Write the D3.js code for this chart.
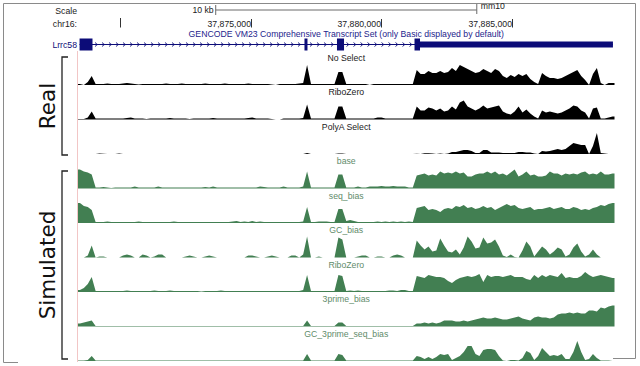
<!DOCTYPE html>
<html>
<head>
<meta charset="utf-8">
<script src="https://cdn.jsdelivr.net/npm/d3@7"></script>
<style>
  body { margin: 0; background: #fff; }
  svg { display: block; }
</style>
</head>
<body>
<div id="container"></div>
<script>
// genome window (mm10, chr16) binned at 150 bp
const regionStart = 37868390;
const binSize = 150;

// ruler ticks
const chrTicks = [37870000, 37875000, 37880000, 37885000];
const chrTickLabels = ["", "37,875,000", "37,880,000", "37,885,000"];
const scaleBarBp = 10000;

// gene model, Lrrc58 (GENCODE VM23)
const geneName = "Lrrc58";
const geneExons = [[37868450, 37868945], [37877065, 37877180], [37878310, 37878580], [37881280, 37881490]];
const geneUtr = [37881490, 37888880];

// track names, top to bottom
const trackNames = ["No Select", "RiboZero", "PolyA Select", "base", "seq_bias", "GC_bias", "RiboZero", "3prime_bias", "GC_3prime_seq_bias"];
const trackGroups = ["Real", "Real", "Real", "Simulated", "Simulated", "Simulated", "Simulated", "Simulated", "Simulated"];

// coverage per 150 bp bin (137 bins)
const noSelect = [
  1, 0, 3, 9, 1, 1, 1, 1.5, 1, 1,
  1, 1.5, 2, 1.5, 1, 0.5, 1, 1, 1, 1,
  1, 1, 1.5, 1, 1, 1, 1.5, 1, 1, 1,
  1, 1, 1.5, 1, 1, 1, 1, 1.5, 1, 1,
  1, 1, 1, 1.5, 1, 1, 1, 1, 1, 0.5,
  0, 1, 1, 1, 1, 1, 1.5, 2, 20, 1,
  1, 1, 1, 1, 1, 1, 13, 13, 1, 1,
  1, 1, 1, 1, 0, 1, 1, 1, 1, 1,
  1, 1, 1, 1, 1, 1, 15, 11, 11, 14,
  12, 12, 14, 12, 13, 17, 14, 20, 18, 16,
  14, 12, 13, 16, 14, 12, 16, 14, 9, 7,
  10, 8, 11, 9, 11, 6, 3, 1, 12, 9,
  7, 7, 6, 7, 9, 11, 13, 15, 9, 5,
  0, 11, 17, 2, 0, 2, 2
];
const riboZeroReal = [
  0.5, 0.5, 2, 8, 1, 1, 1, 1, 1, 1,
  1, 1, 1.5, 2, 1, 1, 1, 0.5, 1, 1,
  1, 1, 1, 1.5, 1, 1, 1, 1, 0.5, 1,
  1, 1, 1, 1, 1.5, 1, 1, 1, 1, 1,
  1, 1, 1, 1.5, 2, 1, 1, 1, 1, 0.5,
  0, 0, 1, 1, 1, 1, 1, 1.5, 15, 1,
  1, 1, 1, 1, 1, 1, 13, 13, 1, 1,
  1, 1, 1, 1, 1, 1, 2, 2, 1, 1,
  1, 1, 1, 1, 1, 1, 13, 9, 9, 12,
  11, 9, 11, 8, 9, 13, 10, 17, 19, 13,
  11, 9, 11, 14, 11, 12, 13, 14, 8, 6,
  5, 8, 13, 7, 10, 6, 3, 1, 9, 7,
  8, 7, 6, 7, 9, 11, 14, 13, 9, 7,
  1, 11, 12, 1, 1, 2, 3
];
const polyASelect = [
  0, 0, 0, 0, 0, 0.5, 0.3, 0, 0, 0,
  0.5, 0, 0, 0, 0, 0, 0, 0, 0, 0,
  0, 0, 0, 0, 0, 0, 0, 0, 0, 0,
  0, 0, 0, 0, 0, 0, 0, 0, 0, 0,
  0, 0, 0, 0, 0, 0, 0, 0, 0, 0,
  0, 0, 0, 0, 0, 0, 0, 0, 1, 0,
  0, 0, 0, 0, 0, 0, 0.5, 0.5, 0, 0,
  0, 0, 0, 0, 0, 0, 0, 0, 0, 0,
  0, 0, 0, 0, 0, 0, 0.3, 0, 0.7, 0.7,
  0.5, 0, 0.5, 0, 0.5, 2, 2, 3, 4, 4,
  3, 1, 1, 4, 4, 1.5, 1.5, 1.5, 1, 1,
  1, 1, 2, 2, 1.5, 1.5, 0.5, 0, 3, 2.5,
  3, 4, 5, 4, 5, 8, 11, 10, 9, 9,
  0, 8, 21, 1, 0.5, 0, 0
];
const simBase = [
  19, 17, 16, 14, 1, 1, 1.5, 1, 0.5, 1,
  1, 1, 1, 1, 2, 1, 1, 1, 1, 1,
  2, 1, 1, 1, 1, 1, 1, 1, 1, 1,
  1, 1, 1.5, 1, 2, 1, 1, 1, 1, 1,
  1, 1, 1, 1, 1, 1, 2, 1.5, 1, 1,
  1, 1, 2, 1, 1, 1, 1, 2, 17, 1,
  1, 1, 1, 1, 1, 1, 14, 14, 1, 1,
  1, 2, 1, 1, 2, 2, 2, 2.5, 2, 2,
  2.5, 2, 2, 2, 1, 1, 13, 14, 15, 13,
  14, 13, 17, 15, 16, 15, 17, 15, 16, 12,
  12, 14, 15, 15, 17, 15, 17, 14, 15, 13,
  16, 19, 12, 14, 17, 13, 14, 12, 12, 13,
  17, 15, 15, 13, 15, 14, 15, 14, 16, 17,
  14, 15, 14, 17, 14, 14, 15
];
const simSeqBias = [
  20, 17, 16, 13, 1, 1, 1, 1.5, 1, 1,
  1, 1, 1, 1, 1, 1.5, 1, 1, 1, 1,
  1, 1, 1, 1, 1.5, 1, 1, 1, 1, 1,
  1, 1, 1, 1, 1, 1, 1, 1, 1, 1.5,
  2, 1, 1.5, 1, 2, 1, 1.5, 1, 1, 1,
  1, 1, 1, 1, 1, 1, 1, 1.5, 16, 1,
  1, 1.5, 1.5, 1.5, 1, 1, 14, 14, 2, 3,
  2, 1, 1, 1, 1, 1, 1.5, 1, 1.5, 1,
  1.5, 1, 1.5, 1, 1.5, 1, 15, 16, 17, 13,
  14, 13, 11, 14, 15, 14, 17, 16, 18, 15,
  16, 14, 15, 17, 15, 16, 13, 15, 17, 19,
  17, 18, 15, 14, 15, 16, 13, 14, 14, 15,
  16, 14, 15, 16, 14, 14, 16, 15, 13, 14,
  13, 15, 16, 18, 17, 19, 20
];
const simGcBias = [
  0, 0, 2, 12, 0, 1, 1, 0, 0, 0,
  0, 2, 3, 2, 0, 0, 3, 2, 0, 1,
  3, 3, 0, 0, 0, 0, 0, 1, 2, 1,
  0, 0, 1, 2, 1, 0, 0, 0, 0, 0,
  0, 0, 0, 2, 2, 1, 0, 0, 1, 2,
  1, 0, 0, 0, 2, 2, 0, 3, 21, 0,
  0, 1, 0, 0, 0, 0, 20, 18, 0, 0,
  0, 1, 2, 2, 0, 0, 1, 1, 0, 0,
  2, 3, 2, 0, 0, 0, 17, 12, 8, 11,
  6, 7, 19, 12, 6, 5, 8, 3, 10, 21,
  16, 9, 10, 20, 14, 15, 18, 11, 2, 0.5,
  3, 0.5, 0, 7, 16, 11, 1, 6, 11, 8,
  3, 6, 10, 8, 1, 3, 10, 14, 6, 1,
  3, 8, 3, 0, 0, 0, 0
];
const simRiboZero = [
  2, 4, 8, 15, 1, 1, 1, 1, 1, 1,
  1, 1, 1.5, 1, 1, 1, 1, 1, 1, 1.5,
  1, 1, 1, 1.5, 1, 1, 1, 1, 1, 1,
  1, 0.5, 1, 1, 1, 1, 1.5, 1, 1, 1,
  1, 1, 1, 1, 1, 1, 1, 1, 1, 1,
  1, 1, 1, 1, 1, 1, 1, 2, 17, 1,
  1, 1, 1, 1, 1, 1, 17, 16, 1, 1.5,
  1, 1.5, 1, 1, 1, 1, 1, 1, 1, 1.5,
  1.5, 1, 2, 2, 1, 1, 16, 15, 14, 17,
  16, 15, 15, 14, 11, 9, 12, 14, 15, 16,
  15, 16, 18, 10, 17, 15, 16, 16, 15, 16,
  17, 15, 15, 15, 13, 12, 17, 14, 17, 15,
  17, 16, 15, 19, 14, 15, 14, 14, 16, 20,
  17, 15, 16, 17, 16, 15, 14
];
const sim3primeBias = [
  3, 4, 5, 6, 0.6, 0.6, 0.6, 0.6, 0.6, 0.6,
  0.6, 0.6, 0.6, 0.6, 0.6, 0.6, 0.6, 0.6, 0.6, 0.6,
  0.6, 0.6, 0.6, 0.6, 0.6, 0.6, 0.6, 0.6, 0.6, 0.6,
  0.6, 0.6, 0.6, 0.6, 0.6, 0.6, 0.6, 0.6, 0.6, 0.6,
  0.6, 0.6, 0.6, 0.6, 0.6, 0.6, 0.6, 0.6, 0.6, 0.6,
  0.6, 0.6, 0.6, 0.6, 0.6, 0.6, 0.6, 0.6, 6, 0.6,
  0.6, 0.6, 0.6, 0.6, 0.6, 0.6, 4, 4, 0.6, 0.6,
  0.6, 0.6, 0.6, 0.6, 0.6, 0.6, 0.6, 0.6, 0.6, 0.6,
  0.6, 0.6, 0.6, 0.6, 0.6, 0.6, 3, 3, 4, 3,
  4, 3, 4, 6, 6, 6, 5, 5, 6, 5,
  6, 7, 8, 9, 8, 8, 9, 8, 7, 7,
  8, 9, 10, 8, 7, 6, 9, 10, 9, 9,
  8, 9, 12, 13, 13, 14, 13, 14, 13, 13,
  16, 16, 15, 19, 18, 20, 21
];
const simGc3primeSeqBias = [
  0.6, 0.6, 1, 5, 0.6, 0.6, 0.6, 0.6, 0.6, 0.6,
  0.6, 0.6, 0.6, 0.6, 0.6, 0.6, 0.6, 0.6, 0.6, 0.6,
  0.6, 0.6, 0.6, 0.6, 0.6, 0.6, 0.6, 0.6, 0.6, 0.6,
  0.6, 0.6, 0.6, 0.6, 0.6, 0.6, 0.6, 0.6, 0.6, 0.6,
  0.6, 0.6, 0.6, 0.6, 0.6, 0.6, 0.6, 0.6, 0.6, 0.6,
  0.6, 0.6, 0.6, 0.6, 0.6, 0.6, 0.6, 0.6, 7, 0.6,
  0.6, 0.6, 0.6, 0.6, 0.6, 0.6, 7, 6, 0.6, 0.6,
  0.6, 0.6, 0.6, 0.6, 0.6, 0.6, 0.6, 0.6, 0.6, 0.6,
  0.6, 0.6, 0.6, 0.6, 0.6, 0.6, 5, 4, 2, 4,
  2, 4, 7, 6, 7, 1, 3, 5, 9, 15,
  15, 7, 5, 11, 12, 12, 11, 5, 0.5, 0,
  1, 1, 0.5, 3, 10, 8, 1, 5, 13, 9,
  5, 6, 5, 7, 2, 2, 9, 20, 9, 1,
  2, 7, 3, 0.5, 0.5, 0.5, 0
];

const trackValues = [noSelect, riboZeroReal, polyASelect, simBase, simSeqBias, simGcBias, simRiboZero, sim3primeBias, simGc3primeSeqBias];

// colours
const navy = "#0c0c78";
const groupFill = {Real: "#000000", Simulated: "#427f52"};
const groupText = {Real: "#222222", Simulated: "#5f8c6b"};
const smallFont = "'Liberation Sans', Arial, sans-serif";

const W = 640, H = 366;
const regionEnd = regionStart + noSelect.length * binSize;

const svg = d3.select("#container")
  .append("svg")
    .attr("width", W)
    .attr("height", H);

// scales
const x = d3.scaleLinear().domain([regionStart, regionEnd]).range([78, 614.5]);
const yTrack = d3.scaleLinear().domain([0, 8]).range([85, 361]);
const hScale = d3.scaleLinear().domain([0, 24]).range([0, 24]);

// outer frame (screenshot border)
svg.append("path")
  .attr("d", "M3.5,362.5 V3.5 H635.5 V358.5 M3.5,362.5 H18 M613,358.5 H635.5")
  .attr("fill", "none")
  .attr("stroke", "#8a8a8a")
  .attr("stroke-width", 1);

// pink guide line at the left edge of the data
svg.append("line")
  .attr("x1", 77.5).attr("x2", 77.5)
  .attr("y1", 51).attr("y2", 362)
  .attr("stroke", "#f2c6c6")
  .attr("stroke-width", 1);

// --- header: scale bar and ruler ---
const text = (sel, t, px, py, anchor, fill, size) => sel.append("text")
  .attr("x", px).attr("y", py)
  .attr("text-anchor", anchor || "start")
  .attr("fill", fill || "#222")
  .attr("font-family", smallFont)
  .attr("font-size", size || 8.7)
  .text(t);

text(svg, "Scale", 77, 13.5, "end");
text(svg, "chr16:", 77, 26.5, "end");

const mid = (x.range()[0] + x.range()[1]) / 2;
const midBp = x.invert(mid);
const sb0 = x(midBp - scaleBarBp / 2), sb1 = x(midBp + scaleBarBp / 2);
svg.append("path")
  .attr("d", `M${sb0},5 V15 M${sb0},10 H${sb1} M${sb1},4 V14`)
  .attr("fill", "none")
  .attr("stroke", "#6a6a6a")
  .attr("stroke-width", 1);
text(svg, (scaleBarBp / 1000) + " kb", sb0 - 2, 13, "end");
text(svg, "mm10", sb1 + 4, 8.5, "start");

chrTicks.forEach((t, i) => {
  const tx = Math.round(x(t)) + 0.5;
  svg.append("line")
    .attr("x1", tx).attr("x2", tx)
    .attr("y1", i === 0 ? 18 : 19).attr("y2", 27.5)
    .attr("stroke", "#333").attr("stroke-width", 1);
  if (chrTickLabels[i]) text(svg, chrTickLabels[i], tx - 0.5, 26.5, "end");
});

// --- gene model ---
text(svg, "GENCODE VM23 Comprehensive Transcript Set (only Basic displayed by default)", mid, 37, "middle", "#24248c");
text(svg, geneName, 77, 47.5, "end", navy);

const gy = 44;
const gStart = geneExons[0][0], gEnd = geneUtr[1];
svg.append("line")
  .attr("x1", x(gStart)).attr("x2", x(gEnd))
  .attr("y1", gy + 0.5).attr("y2", gy + 0.5)
  .attr("stroke", navy).attr("stroke-width", 1);

// strand chevrons along introns
const chev = svg.append("g").attr("stroke", navy).attr("fill", "none").attr("stroke-width", 0.9);
for (let k = 0; k < geneExons.length - 1; k++) {
  const a = x(geneExons[k][1]) + 4, b = x(geneExons[k + 1][0]) - 3;
  for (let cx = a; cx < b; cx += 7) {
    chev.append("path").attr("d", `M${cx - 1.5},${gy - 1.5} L${cx + 0.8},${gy + 0.5} L${cx - 1.5},${gy + 2.5}`);
  }
}

svg.append("rect")
  .attr("x", x(geneUtr[0])).attr("y", gy - 2.5)
  .attr("width", x(geneUtr[1]) - x(geneUtr[0])).attr("height", 6)
  .attr("fill", navy);
svg.selectAll("rect.exon")
  .data(geneExons)
  .join("rect")
    .attr("class", "exon")
    .attr("x", d => x(d[0]))
    .attr("y", gy - 5.5)
    .attr("width", d => Math.max(2.5, x(d[1]) - x(d[0])))
    .attr("height", 12)
    .attr("fill", navy);

// --- coverage tracks ---
trackValues.forEach((vals, i) => {
  const base = yTrack(i);
  const group = trackGroups[i];
  const pts = vals.map((v, j) => [regionStart + (j + 0.5) * binSize, v]);
  pts.unshift([regionStart, vals[0]]);
  pts.push([regionEnd, vals[vals.length - 1]]);

  const area = d3.area()
    .x(d => x(d[0]))
    .y0(base)
    .y1(d => base - hScale(d[1]));

  svg.append("path")
    .datum(pts)
    .attr("fill", groupFill[group])
    .attr("d", area);

  text(svg, trackNames[i], mid, base - 24.5, "middle", groupText[group]);
});

// --- group brackets ---
const groups = [
  {name: "Real", top: yTrack(0) - 28, bottom: yTrack(2) + 1},
  {name: "Simulated", top: yTrack(3) - 17.5, bottom: yTrack(8) - 2}
];
groups.forEach(g => {
  svg.append("path")
    .attr("d", `M68,${g.top} H62 V${g.bottom} H68`)
    .attr("fill", "none")
    .attr("stroke", "#222")
    .attr("stroke-width", 1.3);
  svg.append("text")
    .attr("transform", `translate(55,${(g.top + g.bottom) / 2}) rotate(-90)`)
    .attr("text-anchor", "middle")
    .attr("font-family", "'DejaVu Sans', sans-serif")
    .attr("font-size", 21.5)
    .attr("fill", "#111")
    .text(g.name);
});
</script>
</body>
</html>
